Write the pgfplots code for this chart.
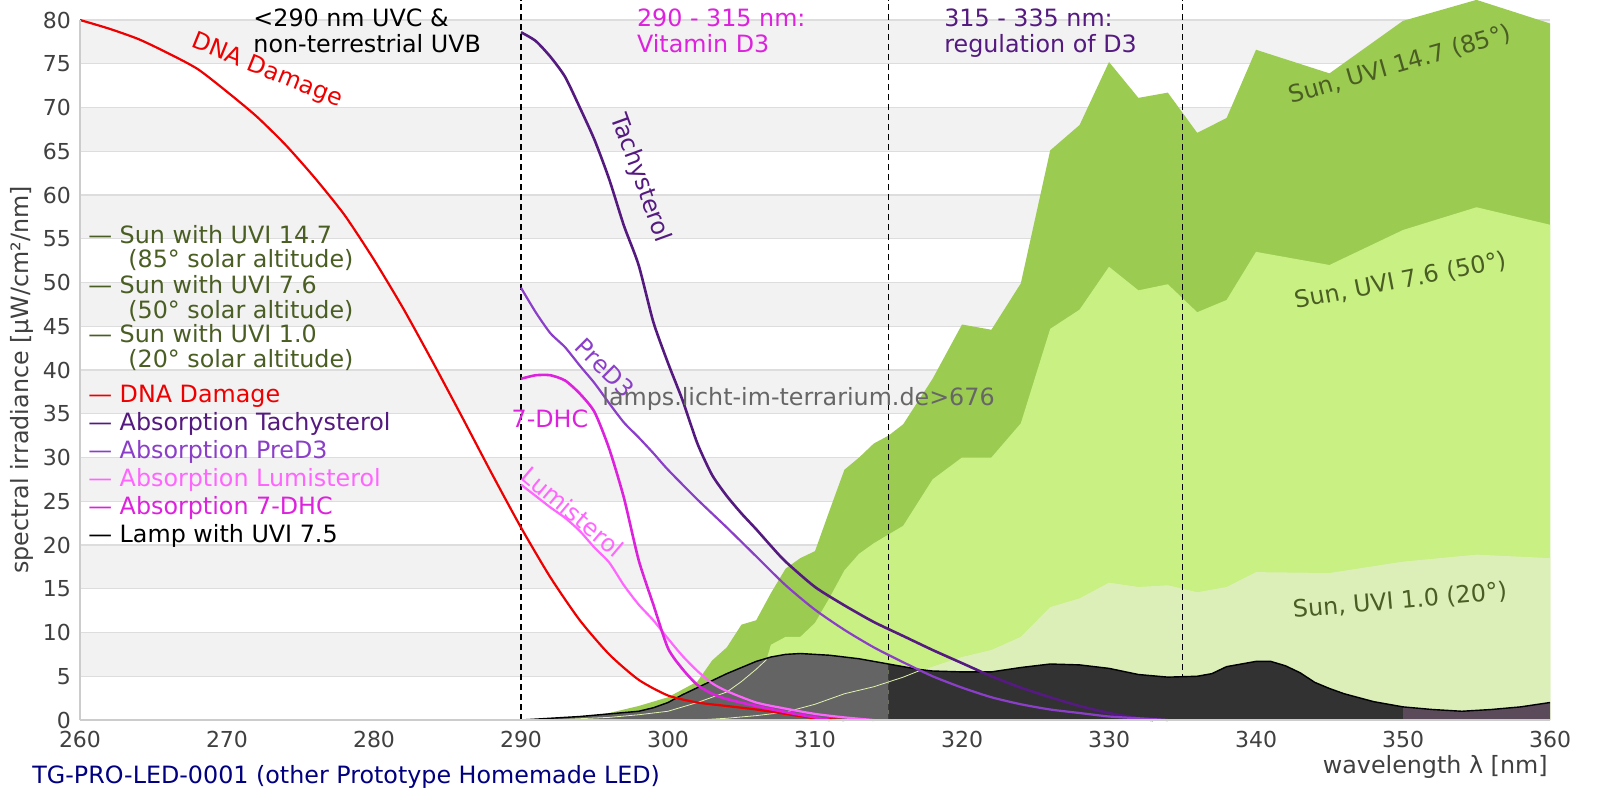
\documentclass[border=0pt]{standalone}
\usepackage{fontspec}
\setmainfont{DejaVu Sans}
\usepackage{pgfplots}
\pgfplotsset{compat=1.18}
\definecolor{bandgray}{HTML}{F2F2F2}
\definecolor{gridgray}{HTML}{DDDDDD}
\definecolor{axisgray}{HTML}{CCCCCC}
\definecolor{tickgray}{HTML}{404040}
\definecolor{sunA}{HTML}{9BCB51}
\definecolor{sunB}{HTML}{C8F083}
\definecolor{sunC}{HTML}{DCEFB8}
\definecolor{sunlabel}{HTML}{4A5E24}
\definecolor{dnared}{HTML}{EE0000}
\definecolor{tachy}{HTML}{551A80}
\definecolor{pred}{HTML}{8B3FC9}
\definecolor{lumi}{HTML}{FF66FF}
\definecolor{dhc}{HTML}{DD22DD}
\definecolor{lampA}{HTML}{646464}
\definecolor{lampB}{HTML}{323232}
\definecolor{lampC}{HTML}{5A4A5A}
\definecolor{navytitle}{HTML}{000080}
\definecolor{wm}{HTML}{666666}
\definecolor{paleline}{HTML}{E0F2B0}
\newcommand{\lbl}{\fontsize{11.9}{14}\selectfont}
\begin{document}
\begin{tikzpicture}
\useasboundingbox (0,0) rectangle (800pt,400pt);
\begin{axis}[
  at={(40pt,40pt)}, anchor=south west, scale only axis,
  width=735pt, height=350pt,
  xmin=260, xmax=360, ymin=0, ymax=80, clip=false,
  axis x line=bottom, axis y line=left,
  axis line style={draw=axisgray, line width=0.6pt, -},
  every outer x axis line/.append style={-},
  every outer y axis line/.append style={-},
  axis on top,
  xtick={260,270,...,360}, ytick={0,5,...,80},
  major tick length=0pt,
  tick label style={font=\fontsize{11}{13}\selectfont, text=tickgray},
  /pgf/number format/assume math mode=true,
  xticklabel style={yshift=-2pt},
  yticklabel style={xshift=-1pt},
]
% background bands
\fill[bandgray] (axis cs:260,5) rectangle (axis cs:360,10);
\fill[bandgray] (axis cs:260,15) rectangle (axis cs:360,20);
\fill[bandgray] (axis cs:260,25) rectangle (axis cs:360,30);
\fill[bandgray] (axis cs:260,35) rectangle (axis cs:360,40);
\fill[bandgray] (axis cs:260,45) rectangle (axis cs:360,50);
\fill[bandgray] (axis cs:260,55) rectangle (axis cs:360,60);
\fill[bandgray] (axis cs:260,65) rectangle (axis cs:360,70);
\fill[bandgray] (axis cs:260,75) rectangle (axis cs:360,80);
% grid lines
\draw[gridgray, line width=0.6pt] (axis cs:260,5) -- (axis cs:360,5);
\draw[gridgray, line width=0.6pt] (axis cs:260,10) -- (axis cs:360,10);
\draw[gridgray, line width=0.6pt] (axis cs:260,15) -- (axis cs:360,15);
\draw[gridgray, line width=0.6pt] (axis cs:260,20) -- (axis cs:360,20);
\draw[gridgray, line width=0.6pt] (axis cs:260,25) -- (axis cs:360,25);
\draw[gridgray, line width=0.6pt] (axis cs:260,30) -- (axis cs:360,30);
\draw[gridgray, line width=0.6pt] (axis cs:260,35) -- (axis cs:360,35);
\draw[gridgray, line width=0.6pt] (axis cs:260,40) -- (axis cs:360,40);
\draw[gridgray, line width=0.6pt] (axis cs:260,45) -- (axis cs:360,45);
\draw[gridgray, line width=0.6pt] (axis cs:260,50) -- (axis cs:360,50);
\draw[gridgray, line width=0.6pt] (axis cs:260,55) -- (axis cs:360,55);
\draw[gridgray, line width=0.6pt] (axis cs:260,60) -- (axis cs:360,60);
\draw[gridgray, line width=0.6pt] (axis cs:260,65) -- (axis cs:360,65);
\draw[gridgray, line width=0.6pt] (axis cs:260,70) -- (axis cs:360,70);
\draw[gridgray, line width=0.6pt] (axis cs:260,75) -- (axis cs:360,75);
\draw[gridgray, line width=0.6pt] (axis cs:260,80) -- (axis cs:360,80);

% Sun UVI 14.7
\addplot[fill=sunA, draw=none] coordinates {
(292,0) (294,0.3) (296,0.8) (298,1.6) (299,2.1) (300,2.6) (301,3.5) (302,4.4) (303,6.8)
(304,8.3) (305,10.9) (306,11.4) (307,14.5) (308,17.3) (309,18.5) (310,19.3) (311,24.0)
(312,28.6) (313,30.0) (314,31.6) (315,32.5) (316,33.8) (318,39.0) (320,45.2) (322,44.6)
(324,49.9) (326,65.1) (328,68.0) (330,75.2) (332,71.1) (334,71.7) (336,67.1) (338,68.8)
(340,76.6) (345,73.9) (350,79.9) (355,82.3) (360,79.6)} \closedcycle;
% Sun UVI 7.6
\addplot[fill=sunB, draw=none] coordinates {
(292,0) (296,0.3) (298,0.6) (300,1.0) (301,1.5) (302,2.0) (303,2.6) (304,3.2) (305,4.4)
(306,5.8) (306.7,6.9) (307,8.6) (308,9.5) (309,9.5) (310,11.1) (311,14.0) (312,17.1)
(313,19.0) (314,20.2) (315,21.2) (316,22.2) (318,27.5) (320,30.0) (322,30.0) (324,33.9)
(326,44.7) (328,46.9) (330,51.8) (332,49.1) (334,49.8) (336,46.6) (338,48.0) (340,53.5)
(345,52.0) (350,56.0) (355,58.6) (360,56.6)} \closedcycle;
% Sun UVI 1.0
\addplot[fill=sunC, draw=none] coordinates {
(302,0) (304,0.2) (306,0.5) (308,0.9) (310,1.8) (312,3.0) (314,3.8) (316,4.9) (318,6.1)
(320,7.2) (322,8.0) (324,9.5) (326,12.9) (328,13.9) (330,15.7) (332,15.2) (334,15.4)
(336,14.6) (338,15.2) (340,16.9) (345,16.8) (350,18.1) (355,18.9) (360,18.5)} \closedcycle;

% dashed region boundaries
\draw[black, line width=0.6pt, dash pattern=on 3pt off 2pt] (axis cs:290,0) -- (axis cs:290,82.3);
\draw[black, line width=0.6pt, dash pattern=on 3pt off 2pt] (axis cs:315,0) -- (axis cs:315,82.3);
\draw[black, line width=0.6pt, dash pattern=on 3pt off 2pt] (axis cs:335,0) -- (axis cs:335,82.3);

% Lamp fills
\addplot[fill=lampA, draw=none] coordinates {
(290,0) (292,0.2) (294,0.4) (296,0.7) (298,1.0) (299,1.4) (300,2.0) (301,2.9) (302,3.7)
(303,4.5) (304,5.3) (305,6.0) (306,6.7) (307,7.2) (308,7.5) (309,7.6) (310,7.5) (311,7.4)
(312,7.2) (313,7.0) (314,6.7) (315,6.4)} \closedcycle;
\addplot[fill=lampB, draw=none] coordinates {
(315,6.4) (316,6.1) (317,5.8) (318,5.6) (320,5.5) (322,5.5) (324,6.0) (326,6.4) (328,6.3)
(330,5.9) (332,5.2) (334,4.9) (336,5.0) (337,5.3) (338,6.1) (340,6.7) (341,6.7) (342,6.2)
(343,5.4) (344,4.3) (345,3.6) (346,3.0) (348,2.1) (350,1.5)} \closedcycle;
\addplot[fill=lampC, draw=none] coordinates {
(350,1.5) (352,1.2) (354,1.0) (356,1.2) (358,1.5) (360,2.0)} \closedcycle;
% pale sun outlines seen through lamp
\addplot[paleline, line width=0.4pt] coordinates {
(292,0) (296,0.3) (298,0.6) (300,1.0) (301,1.5) (302,2.0) (303,2.6) (304,3.2) (305,4.4)
(306,5.8) (306.7,6.9)};
\addplot[paleline, line width=0.4pt] coordinates {
(302,0) (304,0.2) (306,0.5) (308,0.9) (310,1.8) (312,3.0) (314,3.8) (316,4.9) (317.2,5.7)};
% Lamp outline
\addplot[black, line width=0.7pt] coordinates {
(290,0) (292,0.2) (294,0.4) (296,0.7) (298,1.0) (299,1.4) (300,2.0) (301,2.9) (302,3.7)
(303,4.5) (304,5.3) (305,6.0) (306,6.7) (307,7.2) (308,7.5) (309,7.6) (310,7.5) (311,7.4)
(312,7.2) (313,7.0) (314,6.7) (315,6.4) (316,6.1) (317,5.8) (318,5.6) (320,5.5) (322,5.5)
(324,6.0) (326,6.4) (328,6.3) (330,5.9) (332,5.2) (334,4.9) (336,5.0) (337,5.3) (338,6.1)
(340,6.7) (341,6.7) (342,6.2) (343,5.4) (344,4.3) (345,3.6) (346,3.0) (348,2.1) (350,1.5)
(352,1.2) (354,1.0) (356,1.2) (358,1.5) (360,2.0)};

% DNA damage
\addplot[dnared, line width=1.1pt, smooth, tension=0.4] coordinates {
(260,80.0) (262,79.0) (264,77.8) (266,76.2) (268,74.4) (270,71.8) (272,69.0) (274,65.7)
(276,61.9) (278,57.7) (280,52.6) (282,47.0) (284,40.9) (286,34.6) (288,28.2) (290,22.0)
(292,16.3) (294,11.4) (296,7.5) (298,4.6) (300,2.8) (302,2.0) (304,1.6) (306,1.2)
(308,0.7) (310,0.2) (312,0)};
% Tachysterol
\addplot[tachy, line width=1.3pt, smooth, tension=0.4] coordinates {
(290,78.6) (291,77.6) (292,75.8) (293,73.5) (294,70.0) (295,66.3) (296,61.8) (297,56.5)
(298,52.0) (299,45.5) (300,40.8) (301,36.5) (302,31.6) (303,28.0) (304,25.6) (305,23.6)
(306,21.8) (307,19.9) (308,18.1) (310,15.2) (312,13.1) (314,11.2) (316,9.6) (318,8.0)
(320,6.5) (322,5.0) (324,3.7) (326,2.6) (328,1.6) (330,0.8) (332,0.2) (333,0)};
% PreD3
\addplot[pred, line width=1.1pt, smooth, tension=0.4] coordinates {
(290,49.4) (291,46.6) (292,44.2) (293,42.6) (294,40.5) (295,38.5) (296,36.2) (297,34.0)
(298,32.3) (299,30.5) (300,28.6) (302,25.2) (304,22.0) (306,18.7) (308,15.4) (310,12.6)
(312,10.3) (314,8.3) (316,6.6) (318,5.0) (320,3.7) (322,2.6) (324,1.8) (326,1.2)
(328,0.8) (330,0.4) (332,0.2) (334,0)};
% Lumisterol
\addplot[lumi, line width=1.1pt, smooth, tension=0.4] coordinates {
(290,26.9) (291,25.6) (292,24.3) (293,23.1) (294,21.6) (295,19.7) (296,18.0) (297,15.4)
(298,13.2) (299,11.4) (300,9.3) (301,7.3) (302,5.6) (303,4.2) (304,3.3) (306,2.0)
(308,1.3) (310,0.7) (312,0.3) (314,0)};
% 7-DHC
\addplot[dhc, line width=1.3pt, smooth, tension=0.4] coordinates {
(290,39.0) (291,39.4) (292,39.4) (293,38.8) (294,37.3) (295,35.2) (296,31.0) (297,25.4)
(298,18.3) (299,13.2) (300,8.2) (301,5.8) (302,4.0) (303,3.0) (304,2.4) (306,1.6)
(308,0.9) (310,0.3) (311,0)};

% region annotations
\node[anchor=base west, inner sep=0, font=\lbl] at (axis cs:271.77,79.2) {<290 nm UVC \&};
\node[anchor=base west, inner sep=0, font=\lbl] at (axis cs:271.77,76.3) {non-terrestrial UVB};
\node[anchor=base west, inner sep=0, font=\lbl, text=dhc] at (axis cs:297.87,79.2) {290 - 315 nm:};
\node[anchor=base west, inner sep=0, font=\lbl, text=dhc] at (axis cs:297.87,76.3) {Vitamin D3};
\node[anchor=base west, inner sep=0, font=\lbl, text=tachy] at (axis cs:318.77,79.2) {315 - 335 nm:};
\node[anchor=base west, inner sep=0, font=\lbl, text=tachy] at (axis cs:318.77,76.3) {regulation of D3};

% curve labels
\node[font=\lbl, text=dnared, rotate=-22, inner sep=0] at (axis cs:272.72,74.17) {DNA Damage};
\node[font=\lbl, text=tachy, rotate=-70, inner sep=0] at (axis cs:298.1,61.94) {Tachysterol};
\node[font=\lbl, text=pred, rotate=-45, inner sep=0] at (axis cs:295.71,40.23) {PreD3};
\node[font=\lbl, text=dhc, inner sep=0] at (axis cs:291.97,34.4) {7-DHC};
\node[font=\lbl, text=lumi, rotate=-40, inner sep=0] at (axis cs:293.54,23.77) {Lumisterol};
\node[font=\lbl, text=wm, anchor=west, inner sep=0] at (axis cs:295.51,36.74) {lamps.licht-im-terrarium.de>676};
\node[font=\lbl, text=sunlabel, rotate=16, inner sep=0] at (axis cs:349.8,74.9) {Sun, UVI 14.7 (85°)};
\node[font=\lbl, text=sunlabel, rotate=11, inner sep=0] at (axis cs:349.86,50.17) {Sun, UVI 7.6 (50°)};
\node[font=\lbl, text=sunlabel, rotate=5, inner sep=0] at (axis cs:349.8,13.6) {Sun, UVI 1.0 (20°)};

% legend
\node[anchor=base west, inner sep=0, font=\lbl, text=sunlabel] at (axis cs:260.544,54.51) {\textemdash{} Sun with UVI 14.7};
\node[anchor=base west, inner sep=0, font=\lbl, text=sunlabel] at (axis cs:263.265,51.66) {(85° solar altitude)};
\node[anchor=base west, inner sep=0, font=\lbl, text=sunlabel] at (axis cs:260.544,48.80) {\textemdash{} Sun with UVI 7.6};
\node[anchor=base west, inner sep=0, font=\lbl, text=sunlabel] at (axis cs:263.265,45.94) {(50° solar altitude)};
\node[anchor=base west, inner sep=0, font=\lbl, text=sunlabel] at (axis cs:260.544,43.09) {\textemdash{} Sun with UVI 1.0};
\node[anchor=base west, inner sep=0, font=\lbl, text=sunlabel] at (axis cs:263.265,40.23) {(20° solar altitude)};
\node[anchor=base west, inner sep=0, font=\lbl, text=dnared] at (axis cs:260.544,36.34) {\textemdash{} DNA Damage};
\node[anchor=base west, inner sep=0, font=\lbl, text=tachy] at (axis cs:260.544,33.14) {\textemdash{} Absorption Tachysterol};
\node[anchor=base west, inner sep=0, font=\lbl, text=pred] at (axis cs:260.544,29.94) {\textemdash{} Absorption PreD3};
\node[anchor=base west, inner sep=0, font=\lbl, text=lumi] at (axis cs:260.544,26.74) {\textemdash{} Absorption Lumisterol};
\node[anchor=base west, inner sep=0, font=\lbl, text=dhc] at (axis cs:260.544,23.54) {\textemdash{} Absorption 7-DHC};
\node[anchor=base west, inner sep=0, font=\lbl, text=black] at (axis cs:260.544,20.34) {\textemdash{} Lamp with UVI 7.5};

% axis labels and title
\node[font=\lbl, text=tickgray, rotate=90, inner sep=0] at (axis cs:256.05,38.86) {spectral irradiance [µW/cm²/nm]};
\node[font=\lbl, text=tickgray, anchor=east, inner sep=0] at (axis cs:359.86,-5.37) {wavelength λ [nm]};
\node[font=\lbl, text=navytitle, anchor=west, inner sep=0] at (axis cs:256.73,-6.51) {TG-PRO-LED-0001 (other Prototype Homemade LED)};
\end{axis}
\end{tikzpicture}
\end{document}
